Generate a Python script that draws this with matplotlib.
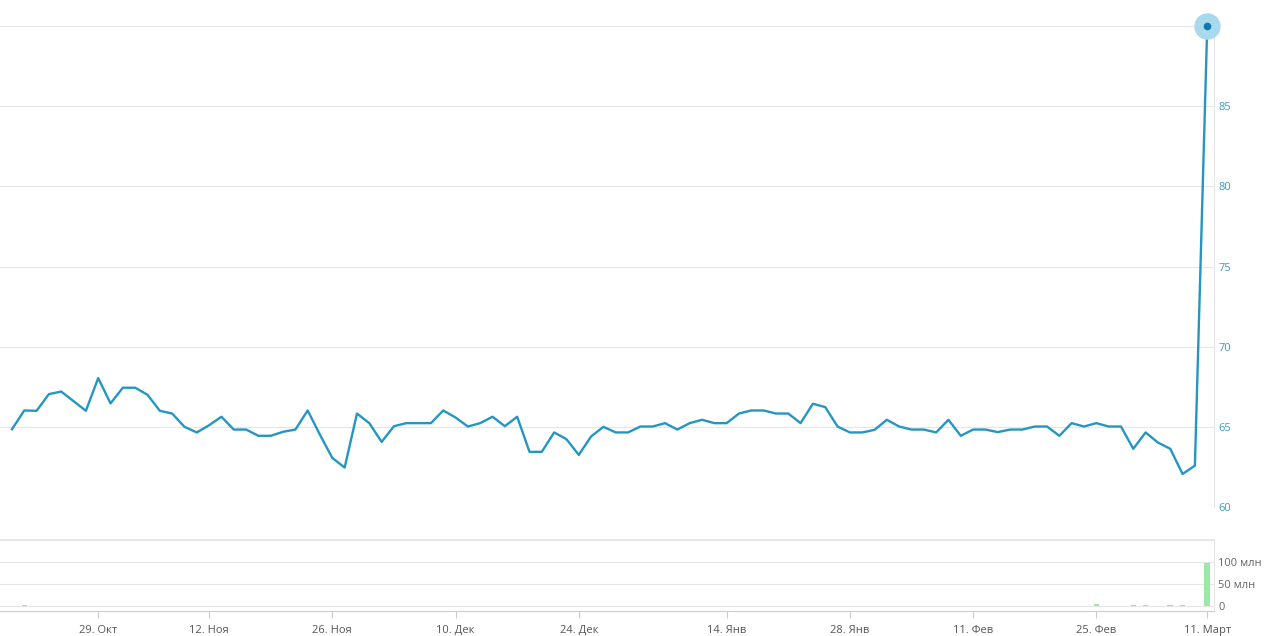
import matplotlib
matplotlib.use("Agg")
import matplotlib.pyplot as plt
import pandas as pd

plt.rcParams["font.family"] = ["Open Sans", "DejaVu Sans"]

# торговые дни (Мосбиржа): будни без праздников + рабочая суббота 29.12
holidays = ["2018-11-05", "2018-12-31", "2019-01-01", "2019-01-02", "2019-01-07", "2019-03-08"]
extra_days = ["2018-12-29"]

# цена закрытия
price = [
    64.85, 66.02, 66.0, 67.04, 67.2, 66.6, 66.0, 68.04, 66.46, 67.44,
    67.44, 67.0, 66.0, 65.83, 65.0, 64.65, 65.1, 65.63, 64.83, 64.83,
    64.44, 64.44, 64.69, 64.83, 66.02, 64.5, 63.06, 62.46, 65.83, 65.23,
    64.06, 65.04, 65.23, 65.23, 65.23, 66.02, 65.58, 65.02, 65.23, 65.63,
    65.04, 65.63, 63.44, 63.44, 64.65, 64.23, 63.25, 64.4, 65.0, 64.65,
    64.65, 65.02, 65.02, 65.23, 64.83, 65.23, 65.44, 65.23, 65.23, 65.83,
    66.02, 66.02, 65.83, 65.83, 65.23, 66.44, 66.23, 65.02, 64.65, 64.65,
    64.81, 65.44, 65.02, 64.83, 64.83, 64.65, 65.44, 64.44, 64.83, 64.83,
    64.67, 64.83, 64.83, 65.02, 65.02, 64.44, 65.23, 65.02, 65.23, 65.02,
    65.02, 63.63, 64.65, 64.02, 63.63, 62.06, 62.58, 90.0,
]

# объём, млн
volume = [0.3] * 98
volume[1] = 2.0
volume[88] = 5.0
volume[91] = 1.5
volume[92] = 1.5
volume[94] = 2.5
volume[95] = 2.0
volume[97] = 98.0

tick_dates = ["2018-10-29", "2018-11-12", "2018-11-26", "2018-12-10", "2018-12-24",
              "2019-01-14", "2019-01-28", "2019-02-11", "2019-02-25", "2019-03-11"]
tick_labels = ["29. Окт", "12. Ноя", "26. Ноя", "10. Дек", "24. Дек",
               "14. Янв", "28. Янв", "11. Фев", "25. Фев", "11. Март"]

dates = pd.bdate_range("2018-10-18", "2019-03-11").drop(pd.to_datetime(holidays))
dates = dates.union(pd.to_datetime(extra_days))
x = list(range(len(dates)))
tick_pos = [dates.get_loc(pd.Timestamp(d)) for d in tick_dates]

line_color = "#2596c2"
label_color = "#3a9cc4"
grid_color = "#e6e6e6"

fig = plt.figure(figsize=(12.72, 6.36), dpi=100)
ax = fig.add_axes([0, 1 - 507 / 636, 1214 / 1272, (507 - 26) / 636])
axv = fig.add_axes([0, 1 - 611 / 636, 1214 / 1272, (611 - 539) / 636])

xlim = (-0.97, 97.55)

# основной график
ax.plot(x, price, color=line_color, lw=1.7, solid_joinstyle="round", zorder=3)
ax.plot(x[-1], price[-1], "o", ms=19, color="#a9d9ec", mec="none", clip_on=False, zorder=4)
ax.plot(x[-1], price[-1], "o", ms=5.5, color="#1478b0", mec="none", clip_on=False, zorder=5)
ax.set_xlim(*xlim)
ax.set_ylim(60, 90)
ax.set_yticks(range(60, 91, 5))
ax.set_yticklabels([str(v) for v in range(60, 90, 5)] + [""])
ax.yaxis.tick_right()
ax.tick_params(axis="y", length=0, pad=3, labelsize=8, labelcolor=label_color)
ax.set_xticks([])
ax.grid(axis="y", color=grid_color, lw=0.8)
for s in ["top", "left", "bottom"]:
    ax.spines[s].set_visible(False)
ax.spines["right"].set_color(grid_color)

# объём
bar_colors = ["#9be8a8"]
for i in range(1, len(price)):
    bar_colors.append("#9be8a8" if price[i] >= price[i - 1] else "#f2b3b3")
axv.bar(x, volume, width=0.45, color=bar_colors, zorder=3)
axv.set_xlim(*xlim)
axv.set_ylim(-11.4, 152)
axv.set_yticks([0, 50, 100, 150])
axv.set_yticklabels(["0", "50 млн", "100 млн", ""])
axv.yaxis.tick_right()
axv.tick_params(axis="y", length=0, pad=3, labelsize=8, labelcolor="#666666")
axv.grid(axis="y", color=grid_color, lw=0.8)
axv.set_xticks(tick_pos)
axv.set_xticklabels(tick_labels)
axv.tick_params(axis="x", length=5, color="#cccccc", labelsize=8, labelcolor="#555555", pad=5)
for s in ["top", "left"]:
    axv.spines[s].set_visible(False)
axv.spines["right"].set_color(grid_color)
axv.spines["bottom"].set_color("#cccccc")
axv.axhline(152, color=grid_color, lw=0.8)

fig.savefig("out.png", dpi=100)
